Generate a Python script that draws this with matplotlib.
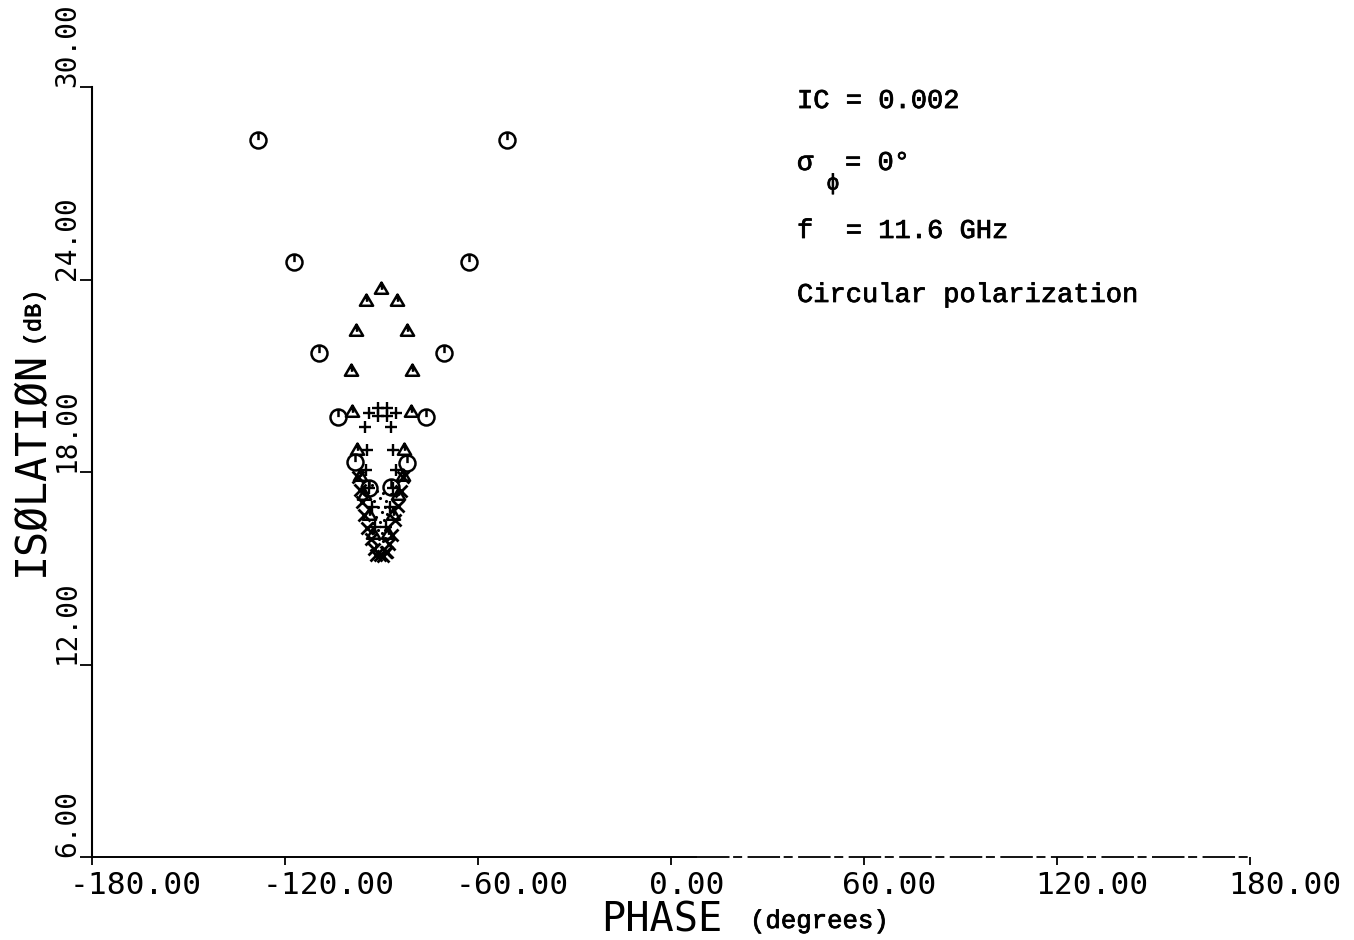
import matplotlib
matplotlib.use("Agg")
import matplotlib.pyplot as plt
from matplotlib import font_manager
from matplotlib.path import Path
from matplotlib.transforms import offset_copy
import matplotlib.patheffects as pe

# ---- data: phase (degrees) and isolation (dB) for each marker family ----
circle_phase = [-128.4, -117.2, -109.4, -103.5, -98.2, -93.9,
                -51.0, -62.8, -70.6, -76.2, -82.1, -87.0]
circle_iso = [28.35, 24.55, 21.71, 19.72, 18.31, 17.50,
              28.35, 24.55, 21.71, 19.72, 18.28, 17.53]

triangle_phase = [-90.2,
                  -94.8, -97.9, -99.5, -99.2, -97.6, -96.8, -95.5, -94.0, -92.5,
                  -85.2, -82.1, -80.5, -80.9, -83.0, -83.3, -85.0, -86.5, -88.0]
triangle_iso = [23.75,
                23.36, 22.43, 21.18, 19.90, 18.72, 17.90, 17.30, 16.70, 16.10,
                23.36, 22.43, 21.18, 19.90, 18.72, 17.90, 17.30, 16.70, 16.10]

plus_phase = [-93.9, -91.0, -91.0, -88.2, -88.2, -85.6,
              -95.1, -94.5, -94.8, -94.0, -93.0, -92.0,
              -87.0, -86.4, -85.5, -86.5, -87.5, -88.5]
plus_iso = [19.85, 19.98, 19.75, 19.98, 19.75, 19.85,
            19.40, 18.69, 18.06, 17.50, 16.90, 16.30,
            19.40, 18.69, 18.06, 17.50, 16.90, 16.30]

cross_phase = [-97.2, -96.6, -96.0, -95.3, -94.4, -93.3, -92.3, -91.6,
               -83.2, -84.0, -84.9, -85.8, -86.8, -87.7, -88.6,
               -90.6, -89.4, -88.2]
cross_iso = [17.85, 17.45, 17.05, 16.65, 16.25, 15.90, 15.60, 15.40,
             17.85, 17.40, 16.95, 16.50, 16.05, 15.75, 15.50,
             15.42, 15.38, 15.52]

dot_phase = [-91.5, -90.5, -89.5, -88.5, -91.0, -90.0, -89.0, -91.8, -90.5,
             -89.2, -88.4, -91.2, -90.0, -89.0, -90.8, -89.6, -92.2, -87.6,
             -92.5, -87.8, -93.0, -86.9, -91.6, -88.9]
dot_iso = [17.40, 17.20, 17.35, 17.10, 16.90, 16.75, 16.90, 16.60, 16.45,
           16.50, 16.70, 16.20, 16.10, 16.20, 15.90, 15.85, 17.10, 16.90,
           16.40, 16.30, 17.60, 17.30, 15.70, 15.95]

x_ticks = [-180, -120, -60, 0, 60, 120, 180]
x_tick_labels = ["-180.00", "-120.00", "-60.00", "0.00", "60.00", "120.00", "180.00"]
y_ticks = [6, 12, 18, 24, 30]
y_tick_labels = ["6.00", "12.00", "18.00", "24.00", "30.00"]

# ---- plotter-style marker shapes ----
circle_tick = Path.make_compound_path(
    Path.unit_circle(),
    Path([(0.0, 1.0), (0.0, 0.05)], [Path.MOVETO, Path.LINETO]))
triangle_tick = Path(
    [(-1.0, -0.8), (1.0, -0.8), (0.0, 0.9), (-1.0, -0.8), (0.0, 0.9), (0.1, -0.2)],
    [Path.MOVETO, Path.LINETO, Path.LINETO, Path.CLOSEPOLY, Path.MOVETO, Path.LINETO])

# ---- fonts: stroke-like mono for the plotter text, a typewriter face for notes ----
available = {f.name for f in font_manager.fontManager.ttflist}
PLOT_FONT = "DejaVu Sans Mono"
typewriter = next((n for n in ("Liberation Mono", "Courier New", "Nimbus Mono PS",
                               "FreeMono") if n in available), "DejaVu Serif")
TYPE_FONT = [typewriter, "DejaVu Sans Mono"]
TYPE_FX = [pe.withStroke(linewidth=0.55, foreground="k")]

fig = plt.figure(figsize=(13.54, 9.40), dpi=100)
fig.patch.set_facecolor("white")
ax = fig.add_axes([92 / 1354, 83 / 940, 1158 / 1354, 770 / 940])
ax.set_xlim(-180, 180)
ax.set_ylim(6, 30)

for side in ("top", "right", "bottom"):
    ax.spines[side].set_visible(False)
ax.spines["left"].set_linewidth(1.5)

# horizontal axis line: solid on the left, broken on the right
ax.plot([-180, 8], [6, 6], color="k", lw=1.4, clip_on=False, solid_capstyle="butt")
ax.plot([8, 180], [6, 6], color="k", lw=1.3, clip_on=False,
        dashes=(18, 2, 5, 3))

ax.set_xticks(x_ticks)
ax.set_yticks(y_ticks)
ax.tick_params(axis="x", direction="out", length=6, width=1.3, labelbottom=False)
ax.tick_params(axis="y", direction="out", length=9, width=1.3, pad=-1)
ax.set_yticklabels(y_tick_labels, rotation=90, va="bottom",
                   fontsize=20, family=PLOT_FONT)

xlab_tr = offset_copy(ax.get_xaxis_transform(), fig=fig, x=-16, y=-10, units="points")
for v, lab in zip(x_ticks, x_tick_labels):
    ax.text(v, 0, lab, transform=xlab_tr, ha="left", va="top",
            fontsize=22.5, family=PLOT_FONT)

# ---- markers ----
ax.plot(circle_phase, circle_iso, ls="none", marker=circle_tick, ms=11.5,
        mfc="none", mec="k", mew=1.8, clip_on=False)
ax.plot(triangle_phase, triangle_iso, ls="none", marker=triangle_tick, ms=9.5,
        mfc="none", mec="k", mew=1.8)
ax.plot(plus_phase, plus_iso, ls="none", marker="+", ms=9,
        mec="k", mew=1.7)
ax.plot(cross_phase, cross_iso, ls="none", marker="x", ms=8,
        mec="k", mew=2.0)
ax.plot(dot_phase, dot_iso, ls="none", marker=".", ms=2.5,
        mec="k", mfc="k")

# ---- axis titles ----
fig.text(662 / 1354, 1 - 920 / 940, "PHASE", ha="center", va="center",
         fontsize=29, family=PLOT_FONT)
fig.text(750 / 1354, 1 - 921 / 940, "(degrees)", ha="left", va="center",
         fontsize=18.5, family=TYPE_FONT, path_effects=TYPE_FX)
fig.text(31 / 1354, 1 - 464 / 940, "ISØLATIØN", ha="center", va="center",
         rotation=90, fontsize=30, family=PLOT_FONT)
fig.text(34 / 1354, 1 - 318 / 940, "(dB)", ha="center", va="center",
         rotation=90, fontsize=17, family=TYPE_FONT, path_effects=TYPE_FX)

# ---- parameter block ----
x0 = (797 - 92) / 1158
x_eq = (845 - 92) / 1158
ax.text(x0, 0.9727, "IC = 0.002", transform=ax.transAxes, ha="left",
        va="baseline", fontsize=19.5, family=TYPE_FONT, path_effects=TYPE_FX)
ax.text(x0, 0.8922, "σ", transform=ax.transAxes, ha="left",
        va="baseline", fontsize=19.5, family=TYPE_FONT, path_effects=TYPE_FX)
ax.text(x_eq, 0.8922, "= 0°", transform=ax.transAxes, ha="left",
        va="baseline", fontsize=19.5, family=TYPE_FONT, path_effects=TYPE_FX)
ax.text((833 - 92) / 1158, 0.8740, "ϕ", transform=ax.transAxes, ha="center",
        va="center", fontsize=16, family=TYPE_FONT, path_effects=TYPE_FX)
ax.text(x0, 0.8039, "f  = 11.6 GHz", transform=ax.transAxes, ha="left",
        va="baseline", fontsize=19.5, family=TYPE_FONT, path_effects=TYPE_FX)
ax.text(x0, 0.7208, "Circular polarization", transform=ax.transAxes, ha="left",
        va="baseline", fontsize=19.5, family=TYPE_FONT, path_effects=TYPE_FX)

fig.savefig("out.png", dpi=100, facecolor="white")
